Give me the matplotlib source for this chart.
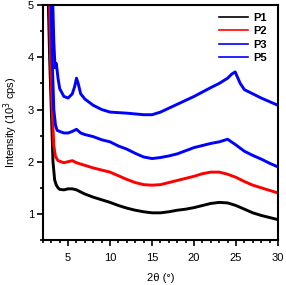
import matplotlib
matplotlib.use("Agg")
import matplotlib.pyplot as plt
from matplotlib.ticker import MultipleLocator

plt.rcParams['font.family'] = ['Liberation Sans', 'DejaVu Sans']

p1_x = [2.5, 2.8, 3.0, 3.2, 3.4, 3.6, 3.8, 4.0, 4.5, 5.0, 5.5, 6.0, 7, 8, 9, 10, 11, 12, 13, 14, 15,
        16, 17, 18, 19, 20, 21, 22, 23, 24, 25, 26, 27, 28, 29, 30]
p1_y = [6.0, 4.0, 3.0, 2.0, 1.65, 1.55, 1.5, 1.47, 1.46, 1.48, 1.48, 1.46, 1.38, 1.32, 1.27, 1.22,
        1.16, 1.11, 1.07, 1.04, 1.02, 1.02, 1.04, 1.07, 1.09, 1.12, 1.16, 1.2, 1.22, 1.21, 1.16,
        1.09, 1.02, 0.97, 0.93, 0.89]

p2_x = [2.7, 2.9, 3.1, 3.3, 3.5, 3.8, 4.5, 5.0, 5.5, 6.0, 7, 8, 9, 10, 11, 12, 13, 14, 15, 16, 17,
        18, 19, 20, 21, 22, 23, 24, 25, 26, 27, 28, 29, 30]
p2_y = [6.0, 4.0, 3.0, 2.3, 2.1, 2.02, 1.98, 2.0, 2.02, 1.98, 1.93, 1.88, 1.84, 1.8, 1.73, 1.66,
        1.6, 1.56, 1.55, 1.56, 1.6, 1.64, 1.68, 1.72, 1.77, 1.8, 1.8, 1.76, 1.7, 1.62, 1.55, 1.5,
        1.45, 1.4]

p3_x = [2.9, 3.1, 3.3, 3.5, 3.7, 4.0, 4.5, 5.0, 5.5, 6.0, 6.5, 7, 8, 9, 10, 11, 12, 13, 14, 15, 16,
        17, 18, 19, 20, 21, 22, 23, 24, 25, 26, 27, 28, 29, 30]
p3_y = [6.0, 4.0, 3.0, 2.7, 2.6, 2.58, 2.55, 2.55, 2.58, 2.62, 2.55, 2.52, 2.48, 2.42, 2.38, 2.3,
        2.24, 2.16, 2.09, 2.06, 2.08, 2.11, 2.15, 2.21, 2.27, 2.31, 2.35, 2.38, 2.43, 2.32, 2.2,
        2.12, 2.05, 1.97, 1.9]

p5_x = [3.1, 3.3, 3.45, 3.6, 3.8, 4.0, 4.5, 5.0, 5.5, 5.8, 6.0, 6.2, 6.5, 7, 8, 9, 10, 12, 14, 15,
        16, 18, 20, 22, 23, 24, 24.5, 24.9, 25.5, 26, 27, 28, 29, 30]
p5_y = [5.5, 4.3, 3.8, 3.88, 3.6, 3.4, 3.25, 3.22, 3.3, 3.45, 3.6, 3.5, 3.3, 3.2, 3.08, 3.0, 2.95,
        2.93, 2.9, 2.9, 2.95, 3.1, 3.25, 3.42, 3.5, 3.6, 3.68, 3.72, 3.5, 3.38, 3.3, 3.22, 3.15, 3.08]

series = [("P1", p1_x, p1_y, "black"), ("P2", p2_x, p2_y, "#ff0000"),
          ("P3", p3_x, p3_y, "#0000ff"), ("P5", p5_x, p5_y, "#0000ff")]

fig = plt.figure(figsize=(2.86, 2.85), dpi=100)
ax = fig.add_axes([0.150, 0.158, 0.822, 0.824])
for name, xs, ys, c in series:
    ax.plot(xs, ys, color=c, lw=2.1, label=name)

ax.set_xlim(2, 30)
ax.set_ylim(0.5, 5)
ax.xaxis.set_major_locator(MultipleLocator(5))
ax.xaxis.set_minor_locator(MultipleLocator(1))
ax.yaxis.set_major_locator(MultipleLocator(1))
ax.yaxis.set_minor_locator(MultipleLocator(0.5))
ax.tick_params(which='both', direction='out', width=1.2, labelsize=8)
ax.tick_params(which='major', length=4.3)
ax.tick_params(which='minor', length=2.3)
ax.tick_params(axis='x', pad=5)
ax.tick_params(axis='y', pad=2)
for s in ax.spines.values():
    s.set_linewidth(1.5)

ax.set_xlabel("2θ (°)", fontsize=8, labelpad=7)
ax.set_ylabel("Intensity (10$^3$ cps)", fontsize=8, labelpad=6)

leg = ax.legend(loc='upper right', frameon=False, handlelength=2.6,
                labelspacing=0.3, borderaxespad=0.3, handletextpad=0.5,
                prop={'weight': 'bold', 'size': 8}, bbox_to_anchor=(0.985, 1.0))
for line in leg.get_lines():
    line.set_linewidth(1.2)

fig.savefig("out.png", dpi=100)
